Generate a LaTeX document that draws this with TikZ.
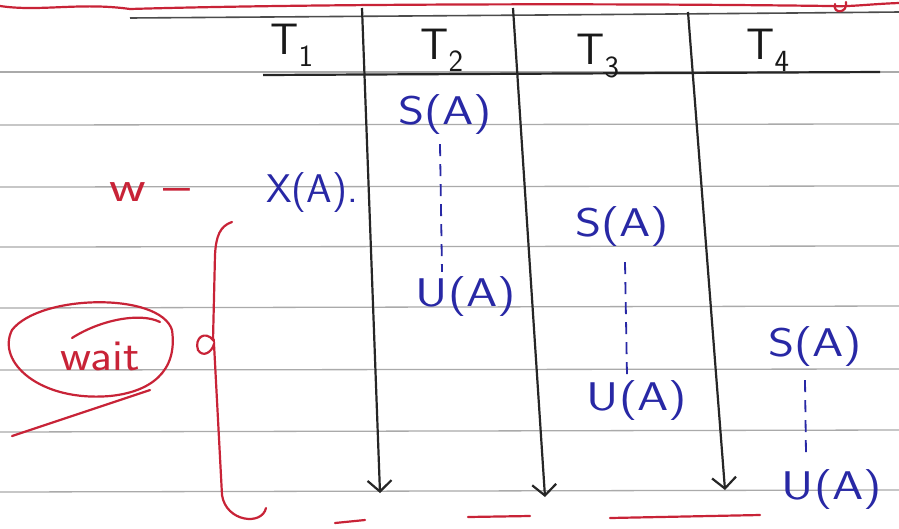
\documentclass[tikz,border=0pt]{standalone}
\usetikzlibrary{arrows.meta}
\definecolor{ink}{RGB}{40,40,165}
\definecolor{redink}{RGB}{200,35,55}
\definecolor{rule}{RGB}{170,170,170}
\tikzset{
  ruleline/.style={draw=rule, line width=1.3pt},
  timeline/.style={draw=black!85, line width=2.2pt, -{Straight Barb[length=11pt,width=24pt,line width=2.2pt]}},
  op/.style={text=ink, font=\fontsize{40}{44}\selectfont\sffamily, inner sep=1pt, xscale=1.25},
  head/.style={text=black!90, font=\fontsize{44}{48}\selectfont\sffamily, inner sep=1pt},
  hold/.style={draw=ink, line width=1.8pt, dash pattern=on 12pt off 8pt},
  rednote/.style={text=redink, font=\fontsize{44}{48}\selectfont\sffamily, inner sep=1pt},
  redpen/.style={draw=redink, line width=2.2pt, line cap=round}
}
\begin{document}
\begin{tikzpicture}[x=1pt,y=-1pt]
\useasboundingbox (0,0) rectangle (899,528);
\fill[white] (0,0) rectangle (899,528);
% notebook ruling
\foreach \yy/\dd in {72/0,125/1,187/1,247/1,308/2,370/1,432/2,492/2}
  \draw[ruleline] (0,\yy) -- (899,\yy-\dd);
\draw[draw=black!70, line width=1.6pt] (130,18) .. controls (400,16) and (700,14) .. (899,12);
% red heading remains at top
\draw[redpen] (0,6) .. controls (40,12) and (80,2) .. (130,9) .. controls (300,4) and (600,3) .. (830,6) .. controls (850,7) and (870,4) .. (899,3);
\draw[redpen] (835,4) .. controls (832,14) and (848,14) .. (846,2);
% header
\draw[draw=black!85, line width=2.2pt] (263,75) -- (880,72);
\node[head] (t1) at (292,45) {T\textsubscript{1}};
\node[head] (t2) at (442,50) {T\textsubscript{2}};
\node[head] (t3) at (598,56) {T\textsubscript{3}};
\node[head] (t4) at (768,50) {T\textsubscript{4}};
% time lines
\coordinate (a1) at (362,8);  \coordinate (b1) at (380,493);
\coordinate (a2) at (513,8);  \coordinate (b2) at (545,497);
\coordinate (a3) at (688,12); \coordinate (b3) at (725,490);
\draw[timeline] (a1) -- (b1);
\draw[timeline] (a2) -- (b2);
\draw[timeline] (a3) -- (b3);
% operations
\node[op, xscale=0.82] (x1) at (312,193) {X(A).};
\node[op] (s2) at (445,115) {S(A)};
\node[op] (u2) at (466,297) {U(A)};
\node[op] (s3) at (622,227) {S(A)};
\node[op] (u3) at (637,401) {U(A)};
\node[op] (s4) at (815,347) {S(A)};
\node[op] (u4) at (832,490) {U(A)};
\draw[hold] ([xshift=-5pt,yshift=-8pt]s2.south) -- ([xshift=-24pt,yshift=4pt]u2.north);
\draw[hold] ([xshift=3pt,yshift=-14pt]s3.south) -- ([xshift=-10pt,yshift=4pt]u3.north);
\draw[hold] ([xshift=-10pt,yshift=-12pt]s4.south) -- ([xshift=-26pt,yshift=14pt]u4.north);
% red notes
\node[rednote, xscale=1.3] (w) at (150,192) {w --};
\node[rednote, xscale=1.1] (wait) at (100,356) {wait};
\draw[redpen] (172,330) .. controls (160,292) and (40,294) .. (12,330)
  .. controls (-4,362) and (40,402) .. (110,396)
  .. controls (150,392) and (178,372) .. (172,330);
\draw[redpen] (72,338) .. controls (100,320) and (140,312) .. (160,322);
\draw[redpen] (150,390) -- (12,436);
\draw[redpen] (232,222) .. controls (220,226) and (216,236) .. (215,255)
  -- (213,340) .. controls (205,330) and (194,338) .. (198,350)
  .. controls (203,358) and (212,352) .. (214,344)
  -- (222,495) .. controls (226,522) and (262,526) .. (266,508);
\draw[redpen] (335,523) -- (365,520);
\draw[redpen] (468,517) -- (530,516);
\draw[redpen] (610,518) -- (760,515);
\end{tikzpicture}
\end{document}
